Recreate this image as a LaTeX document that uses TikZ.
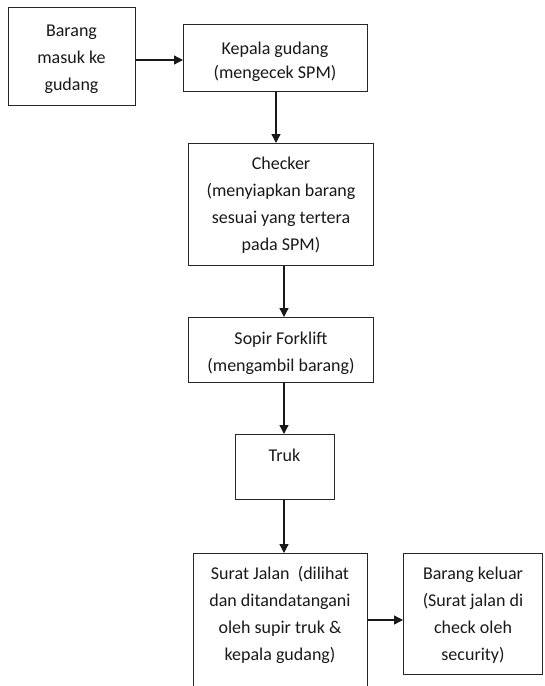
\documentclass[tikz,border=0pt]{standalone}
\usepackage{fontspec}
\setmainfont{Carlito}
\usetikzlibrary{arrows.meta}
\begin{document}
\begin{tikzpicture}[x=1pt,y=-1pt,
  box/.style={draw=black!85, line width=1.3pt, fill=white},
  txt/.style={anchor=north, align=center, inner sep=0pt, text=black!90,
    font=\fontsize{18}{27}\selectfont},
  txttight/.style={txt, font=\fontsize{18}{24}\selectfont},
  arr/.style={draw=black!90, line width=1.3pt, -{Triangle[length=9pt,width=9pt]}}]
  \useasboundingbox (0,0) rectangle (544,686);
  \clip (0,0) rectangle (544,686);
  \fill[white] (0,0) rectangle (544,686);

  % process boxes
  \node[box, minimum width=127pt, minimum height=98pt, anchor=north west] (masuk) at (8,7) {};
  \node[box, minimum width=184pt, minimum height=67pt, anchor=north west] (kepala) at (183,24) {};
  \node[box, minimum width=185pt, minimum height=122pt, anchor=north west] (checker) at (188,143) {};
  \node[box, minimum width=185pt, minimum height=65pt, anchor=north west] (sopir) at (188,317) {};
  \node[box, minimum width=99pt, minimum height=65pt, anchor=north west] (truk) at (235,434) {};
  \node[box, minimum width=174pt, minimum height=160pt, anchor=north west] (surat) at (193,553) {};
  \node[box, minimum width=139pt, minimum height=121pt, anchor=north west] (keluar) at (403,553) {};

  % labels (a strut on the first line fixes the top of each text block)
  \node[txt] (tmasuk) at (71.5,17) {\strut Barang\\masuk ke\\gudang};
  \node[txttight] (tkepala) at (275,37) {\strut Kepala gudang\\(mengecek SPM)};
  \node[txt] (tchecker) at (281,150) {\strut Checker\\(menyiapkan barang\\sesuai yang tertera\\pada SPM)};
  \node[txt] (tsopir) at (281,325) {\strut Sopir Forklift\\(mengambil barang)};
  \node[txt] (ttruk) at (284.5,442) {\strut Truk};
  \node[txt] (tsurat) at (280,560) {\strut Surat Jalan\ \ (dilihat\\dan ditandatangani\\oleh supir truk \&\\kepala gudang)};
  \node[txt] (tkeluar) at (473,560) {\strut Barang keluar\\(Surat jalan di\\check oleh\\security)};

  % connectors
  \draw[arr] (masuk.east |- 0,60) -- (kepala.west |- 0,60);
  \draw[arr] (kepala.south -| 276,0) -- (checker.north -| 276,0);
  \draw[arr] (checker.south -| 284,0) -- (sopir.north -| 284,0);
  \draw[arr] (sopir.south -| 284,0) -- (truk.north -| 284,0);
  \draw[arr] (truk.south -| 284,0) -- (surat.north -| 284,0);
  \draw[arr] (surat.east |- 0,620) -- (keluar.west |- 0,620);
\end{tikzpicture}
\end{document}
